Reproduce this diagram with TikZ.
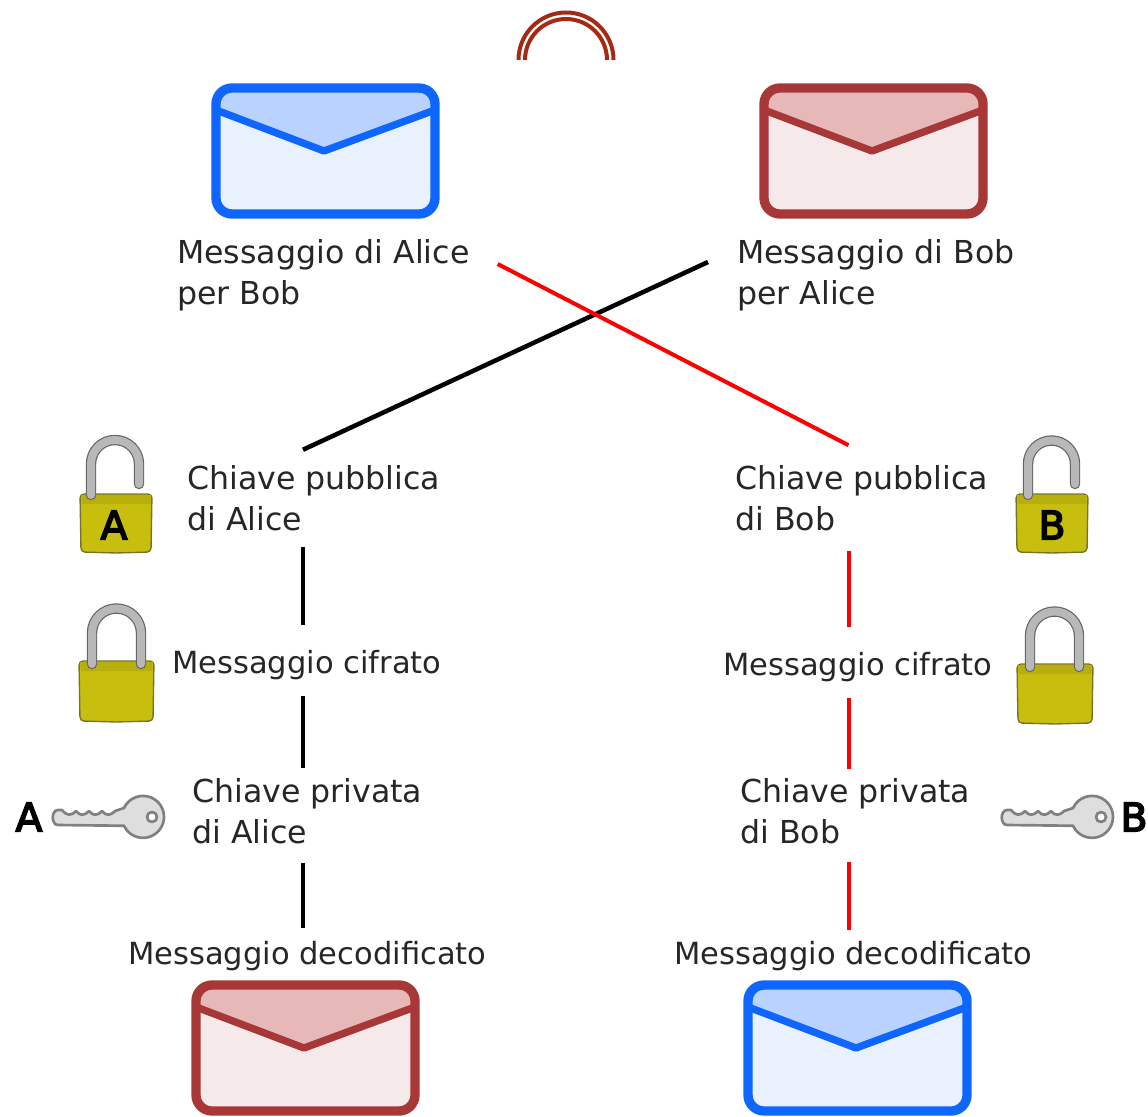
\documentclass[tikz,border=0pt]{standalone}
\usepackage{fontspec}
\setmainfont{DejaVu Sans}
\newfontfamily\letterfont[FakeBold=4]{DejaVu Sans}
\usetikzlibrary{calc}
\definecolor{bluline}{HTML}{0F66FF}
\definecolor{bluflap}{HTML}{B9D2FF}
\definecolor{blubody}{HTML}{EAF1FE}
\definecolor{redline}{HTML}{A83838}
\definecolor{redflap}{HTML}{E6B8B8}
\definecolor{redbody}{HTML}{F6E9E9}
\definecolor{lockfill}{HTML}{C8BE0E}
\definecolor{lockrim}{HTML}{B9AF0C}
\definecolor{lockedge}{HTML}{77722A}
\definecolor{arcbrown}{HTML}{A52A14}
\tikzset{
	label text/.style={inner sep=0pt, anchor=west, align=left, text=black!85, font=\fontsize{23.7pt}{30.75pt}\selectfont},
	tight text/.style={label text, font=\fontsize{22.9pt}{30.75pt}\selectfont},
	big letter/.style={inner sep=0pt, text=black, font=\letterfont\fontsize{29.5pt}{30pt}\selectfont},
	black link/.style={black, line width=3.4pt},
	red link/.style={red, line width=3pt},
	shackle/.style={draw=black!60, double=black!28, double distance=6pt, line width=.9pt, line cap=round},
	lockbox/.style={fill=lockfill, draw=lockedge, line width=1pt, rounded corners=3pt},
	keybox/.style={fill=black!13, draw=black!50, line width=2pt, line join=round},
	envelope/.pic={
		\fill[\ename body, rounded corners=12pt] (0,0) rectangle (219,126);
		\fill[\ename flap, rounded corners=12pt] (0,24) -- (0,0) -- (219,0) -- (219,24) [sharp corners] -- (108,64) -- cycle;
		\draw[\ename line, line width=7pt, rounded corners=12pt] (0,0) rectangle (219,126);
		\draw[\ename line, line width=5.5pt, line join=round] (0,22) -- (108,63) -- (219,22);
	},
	lockbody/.pic={
		\draw[lockbox] (0,1) -- (\lw,1) -- (\lw-1,\lh-1) -- (\lw/2,\lh) -- (1,\lh-1) -- cycle;
		\fill[lockrim] (1,2) -- (\lw-1,2) -- (\lw-2,11) -- (2,11) -- cycle;
	},
	keyshape/.pic={
		\draw[keybox] (-94,-7) -- (-90,-7) .. controls (-85,-1) and (-81,-1) .. (-76,-6) .. controls (-72,-1) and (-68,-1) .. (-63,-6) .. controls (-59,-1) and (-55,-1) .. (-50,-6) .. controls (-46,-1) and (-42,-1) .. (-37,-6) -- (-28,-9) arc (205:515:21) -- (-94,8) .. controls (-101,8) and (-101,-7) .. (-94,-7) -- cycle;
		\draw[keybox, fill=white] (0,0) circle (5);
	}
}
\begin{document}
\begin{tikzpicture}[x=.75pt, y=-.75pt]
	\useasboundingbox (0,0) rectangle (1148,1116);
	\draw[arcbrown, line width=3pt] (518.5,60) arc (180:360:47.5);
	\draw[arcbrown, line width=3pt] (525,60) arc (180:360:41);
	% envelopes
	\foreach \ex/\ey/\ename in {216/88/blu, 764/88/red, 196/985/red, 748/985/blu} {
			\pic at (\ex,\ey) {envelope};
		}
	% padlocks
	\foreach \lx/\ly/\lw/\lh in {80/493/72/60, 79/660/75/62, 1016/493/72/60, 1017/663/76/61} {
			\pic at (\lx,\ly) {lockbody};
		}
	\draw[shackle] (91,495) -- (91,464) arc (180:360:24) -- (139,484);
	\draw[shackle] (1028,495) -- (1028,464) arc (180:360:23.5) -- (1075,484);
	\draw[shackle] (92,664) -- (92,633) arc (180:360:24.5) -- (141,664);
	\draw[shackle] (1030,667) -- (1030,636) arc (180:360:24.5) -- (1079,667);
	\node[big letter] (lockA) at (114,525) {A};
	\node[big letter] (lockB) at (1052,525) {B};
	% keys
	\pic at (152,817) {keyshape};
	\pic at (1101,817) {keyshape};
	\node[big letter] (keyA) at (29,817) {A};
	\node[big letter] (keyB) at (1134,817) {B};
	% labels
	\node[label text, inner xsep=21pt] (msgalice) at (149,275) {Messaggio di Alice\\per Bob};
	\node[label text, inner xsep=21.75pt] (msgbob) at (708,275) {Messaggio di Bob\\per Alice};
	\node[label text, minimum height=72.75pt] (pubalice) at (187,498.5) {Chiave pubblica\\di Alice};
	\node[label text, minimum height=78.75pt] (pubbob) at (735,498) {Chiave pubblica\\di Bob};
	\node[tight text, minimum height=60.75pt] (cifalice) at (172,665.5) {Messaggio cifrato};
	\node[tight text, minimum height=60.75pt] (cifbob) at (723,667.5) {Messaggio cifrato};
	\node[label text, minimum height=77.25pt] (privalice) at (192,811.5) {Chiave privata\\di Alice};
	\node[label text, minimum height=75.75pt] (privbob) at (740,811.5) {Chiave privata\\di Bob};
	\node[tight text, minimum height=42pt] (decalice) at (128,956) {Messaggio decodificato};
	\node[tight text, minimum height=39pt] (decbob) at (674,956) {Messaggio decodificato};
	\coordinate (axisA) at (303,0);
	\coordinate (axisB) at (848.5,0);
	% connectors
	\draw[black link] ($(msgbob.west)+(0,-13)$) -- (pubalice.north -| axisA);
	\draw[red link] ($(msgalice.east)+(0,-11)$) -- (pubbob.north -| axisB);
	\draw[black link] (pubalice.south -| axisA) -- (cifalice.north -| axisA);
	\draw[black link, shorten <=-7.5pt, shorten >=-6pt] (cifalice.south -| axisA) -- (privalice.north -| axisA);
	\draw[black link] (privalice.south -| axisA) -- (decalice.north -| axisA);
	\draw[red link] (pubbob.south -| axisB) -- (cifbob.north -| axisB);
	\draw[red link, shorten <=-7.5pt, shorten >=-6pt] (cifbob.south -| axisB) -- (privbob.north -| axisB);
	\draw[red link] (privbob.south -| axisB) -- (decbob.north -| axisB);
\end{tikzpicture}
\end{document}
